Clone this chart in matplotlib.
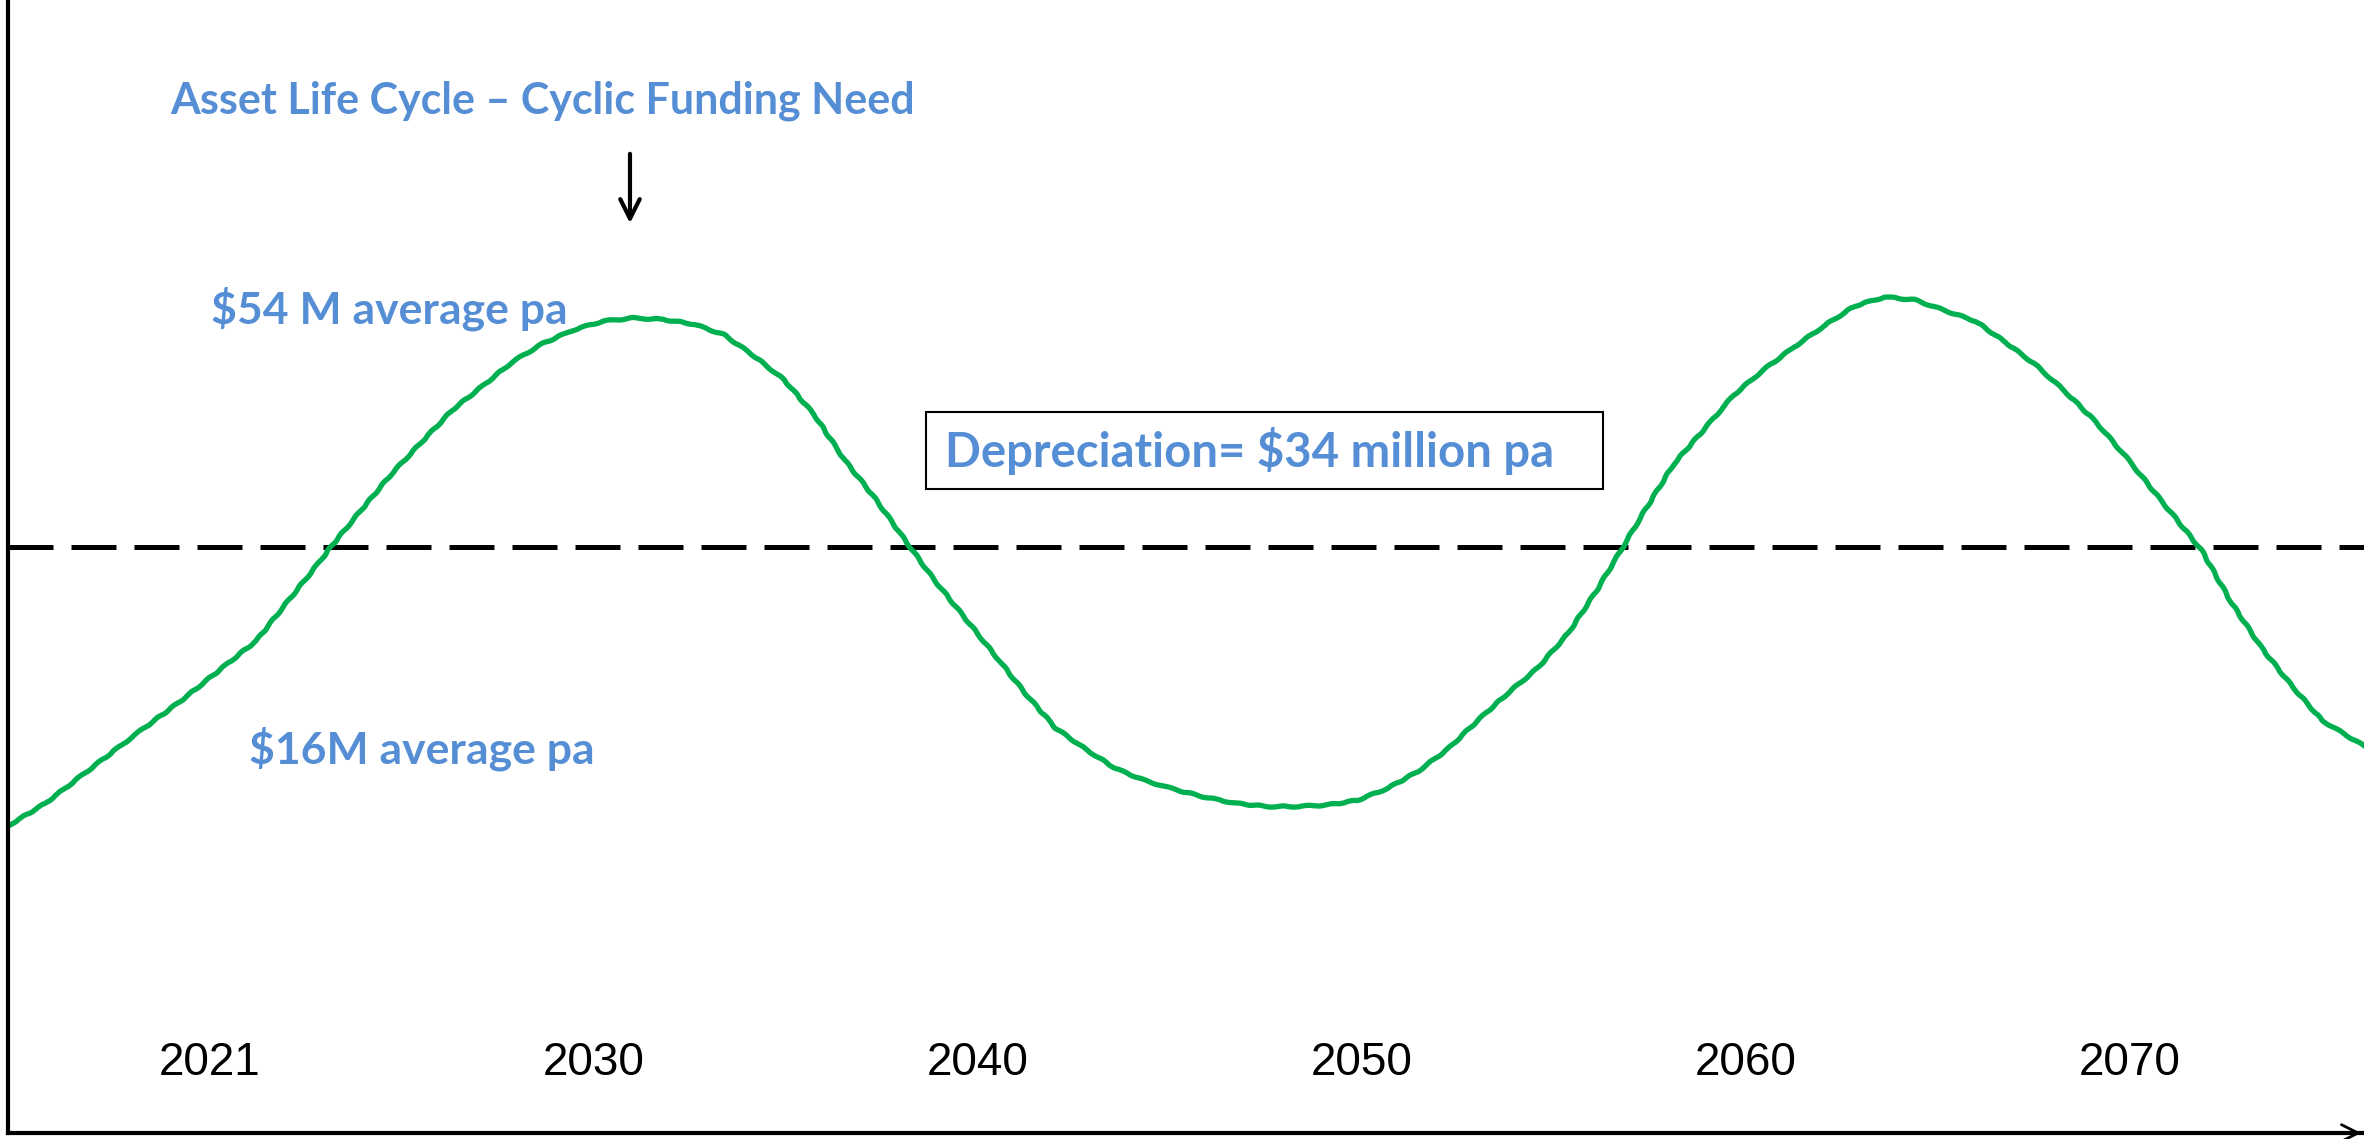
import matplotlib.pyplot as plt
from matplotlib.patches import Rectangle

# funding need curve (year, $M pa)
years = [2014.73, 2015.71, 2016.89, 2018.07, 2019.24, 2020.42, 2021.21, 2021.99, 2022.78, 2023.17,
         2023.95, 2024.74, 2025.52, 2026.31, 2027.10, 2027.88, 2028.66, 2029.45, 2030.24, 2031.02,
         2031.81, 2032.59, 2033.38, 2034.16, 2034.95, 2035.73, 2036.52, 2037.30, 2038.09, 2038.87,
         2039.66, 2040.45, 2041.23, 2042.02, 2042.80, 2043.59, 2044.37, 2045.16, 2045.94, 2046.73,
         2047.52, 2048.30, 2049.09, 2049.87, 2050.66, 2051.44, 2052.23, 2053.01, 2053.79, 2054.58,
         2055.37, 2056.15, 2056.74, 2057.33, 2058.11, 2058.90, 2059.68, 2060.47, 2061.26, 2062.04,
         2062.83, 2063.61, 2064.40, 2065.18, 2065.97, 2066.75, 2067.54, 2068.32, 2069.11, 2069.89,
         2070.68, 2071.86, 2072.64, 2073.43, 2074.21, 2075.00, 2076.10]
funding = [9.61, 11.59, 14.62, 17.64, 20.54, 23.70, 25.81, 29.10, 32.39, 34.10,
           37.26, 40.42, 43.19, 45.95, 48.06, 50.17, 51.75, 52.93, 53.72, 53.99,
           53.86, 53.46, 52.54, 50.69, 48.59, 45.56, 41.61, 38.32, 34.63, 31.07,
           27.78, 24.49, 21.20, 18.17, 16.33, 14.62, 13.56, 12.77, 12.11, 11.59,
           11.32, 11.32, 11.45, 11.85, 12.90, 14.35, 16.33, 18.83, 21.20, 23.44,
           26.46, 30.41, 33.71, 37.00, 41.21, 44.24, 47.27, 49.51, 51.48, 53.33,
           55.04, 55.83, 55.57, 54.64, 53.72, 51.88, 49.90, 47.53, 44.90, 41.87,
           38.58, 33.71, 29.10, 25.15, 21.86, 18.83, 16.59]
depreciation = 34

tick_years = [2020, 2030, 2040, 2050, 2060, 2070]
tick_labels = ['2021', '2030', '2040', '2050', '2060', '2070']

title = 'Asset Life Cycle \u2013 Cyclic Funding Need'
high_label = '$54 M average pa'
low_label = '$16M average pa'
dep_label = 'Depreciation= $34 million pa'

blue = '#558ED5'
green = '#00B050'

fig = plt.figure(figsize=(23.64, 11.39), dpi=100)
ax = fig.add_axes([8 / 2364, 6 / 1139, 2356 / 2364, 1133 / 1139])
ax.set_xlim(2014.74, 2076.09)
ax.set_ylim(-17.2, 81.77)

# depreciation line and the cycle
ax.axhline(depreciation, color='black', lw=3.6, linestyle=(0, (9, 3.6)))
line, = ax.plot(years, funding, color=green, lw=3.8)
line.set_sketch_params(0.6, 25, 2)

# axes: only left and bottom, no ticks
for s in ['top', 'right']:
    ax.spines[s].set_visible(False)
for s in ['left', 'bottom']:
    ax.spines[s].set_linewidth(3)
ax.set_xticks([])
ax.set_yticks([])
ax.annotate('', xy=(1.0, 0), xytext=(0.985, 0), xycoords='axes fraction',
            arrowprops=dict(arrowstyle='->', lw=2, color='black', mutation_scale=30))

for yr, lab in zip(tick_years, tick_labels):
    ax.text(yr, 0.0618, lab, transform=ax.get_xaxis_transform(),
            ha='center', va='center', fontsize=33, family='Liberation Sans')

# annotations
ax.text(0.2267, 0.9109, title, transform=ax.transAxes, ha='center', va='center',
        fontsize=31, fontweight='bold', color=blue, family='Lato')
ax.annotate('', xy=(0.264, 0.8005), xytext=(0.264, 0.8667), xycoords='axes fraction',
            arrowprops=dict(arrowstyle='->', lw=3, color='black', mutation_scale=35))
ax.text(0.0862, 0.7273, high_label, transform=ax.transAxes, ha='left', va='center',
        fontsize=32, fontweight='bold', color=blue, family='Lato')
ax.text(0.1023, 0.3389, low_label, transform=ax.transAxes, ha='left', va='center',
        fontsize=32, fontweight='bold', color=blue, family='Lato')

ax.add_patch(Rectangle((0.3896, 0.5684), 0.2874, 0.068, transform=ax.transAxes,
                       fill=False, edgecolor='black', lw=1.5))
ax.text(0.3977, 0.6019, dep_label, transform=ax.transAxes, ha='left', va='center',
        fontsize=34, fontweight='bold', color=blue, family='Lato')

fig.savefig('out.png', dpi=100)
